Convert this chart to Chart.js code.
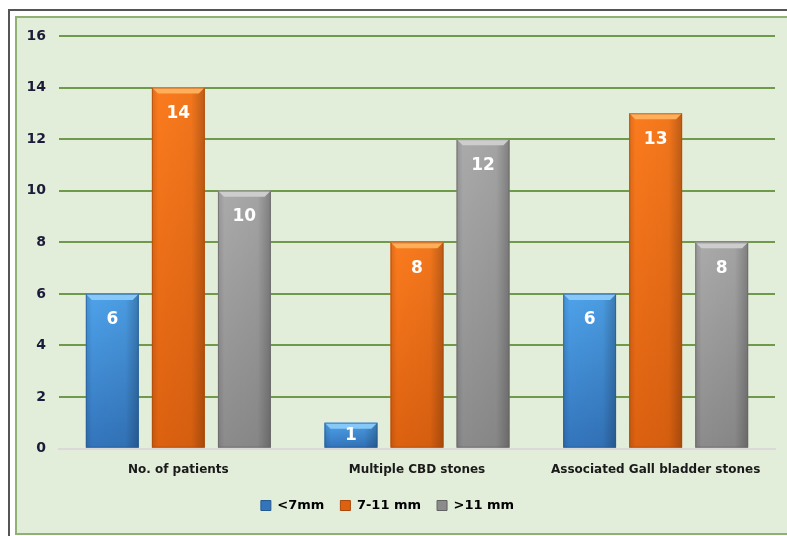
<!DOCTYPE html>
<html>
<head>
<meta charset="utf-8">
<script src="https://cdn.jsdelivr.net/npm/chart.js@4"></script>
<style>
    html, body { margin: 0; padding: 0; background: #ffffff; }
    body { width: 787px; height: 536px; position: relative; overflow: hidden; }
    .frame {
        position: absolute; left: 8px; top: 9px; width: 900px; height: 700px;
        border-left: 2px solid #555555; border-top: 2px solid #555555;
    }
    .panel {
        position: absolute; left: 15px; top: 16px; width: 900px; height: 515px;
        background: #e2eed9; border: 2px solid #8fb174;
    }
    #chart { position: absolute; left: 0; top: 0; }
</style>
</head>
<body>
<div class="frame"></div>
<div class="panel"></div>
<canvas id="chart" width="787" height="536"></canvas>
<script>
    // Chart data
    const categories = ['No. of patients', 'Multiple CBD stones', 'Associated Gall bladder stones'];
    const seriesNames = ['<7mm', '7-11 mm', '>11 mm'];
    const smallStones = [6, 1, 6];
    const mediumStones = [14, 8, 13];
    const largeStones = [10, 12, 8];
    const yTicks = [0, 2, 4, 6, 8, 10, 12, 14, 16];

    // light / mid / dark shades per series
    const palette = [
        { light: '#4ea2ea', mid: '#3374bb', dark: '#245a92', bevel: '#86c8f7' },
        { light: '#fb7b1e', mid: '#dc6110', dark: '#a9480a', bevel: '#ffae5a' },
        { light: '#aaaaaa', mid: '#8b8b8b', dark: '#626262', bevel: '#cdcdcd' }
    ];

    const FONT = "'DejaVu Sans', Verdana, sans-serif";

    // repaints each bar with cylinder-like shading, bevel and a white value label
    const barStyle = {
        id: 'barStyle',
        afterDatasetsDraw(chart) {
            const ctx = chart.ctx;
            chart.data.datasets.forEach((ds, di) => {
                const meta = chart.getDatasetMeta(di);
                const c = palette[di];
                meta.data.forEach((bar, i) => {
                    const p = bar.getProps(['x', 'y', 'base', 'width'], true);
                    const left = p.x - p.width / 2;
                    const top = Math.min(p.y, p.base);
                    const h = Math.abs(p.base - p.y);
                    const w = p.width;
                    ctx.save();
                    // vertical shading
                    const gv = ctx.createLinearGradient(0, top, 0, top + h);
                    gv.addColorStop(0, c.light);
                    gv.addColorStop(1, c.mid);
                    ctx.fillStyle = gv;
                    ctx.fillRect(left, top, w, h);
                    // darker edges
                    const gh = ctx.createLinearGradient(left, 0, left + w, 0);
                    gh.addColorStop(0, 'rgba(0,0,0,0.12)');
                    gh.addColorStop(0.12, 'rgba(0,0,0,0)');
                    gh.addColorStop(0.75, 'rgba(0,0,0,0.04)');
                    gh.addColorStop(1, 'rgba(0,0,0,0.25)');
                    ctx.fillStyle = gh;
                    ctx.fillRect(left, top, w, h);
                    // top bevel
                    const b = Math.min(6, h / 3);
                    ctx.fillStyle = c.bevel;
                    ctx.beginPath();
                    ctx.moveTo(left, top);
                    ctx.lineTo(left + w, top);
                    ctx.lineTo(left + w - b, top + b);
                    ctx.lineTo(left + b, top + b);
                    ctx.closePath();
                    ctx.fill();
                    ctx.strokeStyle = c.dark;
                    ctx.globalAlpha = 0.6;
                    ctx.lineWidth = 1;
                    ctx.strokeRect(left + 0.5, top + 0.5, w - 1, h - 1);
                    ctx.globalAlpha = 1;
                    // value label
                    ctx.fillStyle = '#ffffff';
                    ctx.font = 'bold 17px ' + FONT;
                    ctx.textAlign = 'center';
                    ctx.textBaseline = 'middle';
                    ctx.fillText(String(ds.data[i]), p.x, top + Math.min(26, h / 2));
                    ctx.restore();
                });
            });
        }
    };

    new Chart(document.getElementById('chart'), {
        type: 'bar',
        data: {
            labels: categories,
            datasets: [
                { label: seriesNames[0], data: smallStones, backgroundColor: palette[0].mid },
                { label: seriesNames[1], data: mediumStones, backgroundColor: palette[1].mid },
                { label: seriesNames[2], data: largeStones, backgroundColor: palette[2].mid }
            ]
        },
        options: {
            responsive: false,
            animation: false,
            categoryPercentage: 0.83,
            barPercentage: 0.8,
            layout: { padding: { left: 0, right: 12, top: 36, bottom: 14 } },
            scales: {
                x: {
                    grid: { display: false },
                    border: { display: true, color: '#d9d9d9', width: 2 },
                    ticks: {
                        color: '#1a1a1a',
                        font: { family: FONT, size: 12, weight: 'bold' },
                        padding: 6,
                        maxRotation: 0
                    }
                },
                y: {
                    min: 0,
                    max: 16,
                    afterBuildTicks(scale) {
                        scale.ticks = yTicks.map(v => ({ value: v }));
                    },
                    afterFit(scale) { scale.width = 59; },
                    grid: {
                        color: ctx => ctx.tick.value === 0 ? 'rgba(0,0,0,0)' : '#6f9a4c',
                        lineWidth: 2,
                        drawTicks: false
                    },
                    border: { display: false },
                    ticks: {
                        color: '#1c1c3a',
                        font: { family: FONT, size: 14, weight: 'bold' },
                        padding: 13
                    }
                }
            },
            plugins: {
                legend: {
                    position: 'bottom',
                    labels: {
                        boxWidth: 10,
                        boxHeight: 10,
                        padding: 16,
                        color: '#1a1a1a',
                        font: { family: FONT, size: 13, weight: 'bold' },
                        generateLabels(chart) {
                            return chart.data.datasets.map((ds, i) => ({
                                text: ds.label,
                                fillStyle: palette[i].mid,
                                strokeStyle: palette[i].dark,
                                lineWidth: 1,
                                datasetIndex: i
                            }));
                        }
                    }
                },
                tooltip: { enabled: false }
            }
        },
        plugins: [barStyle]
    });
</script>
</body>
</html>
